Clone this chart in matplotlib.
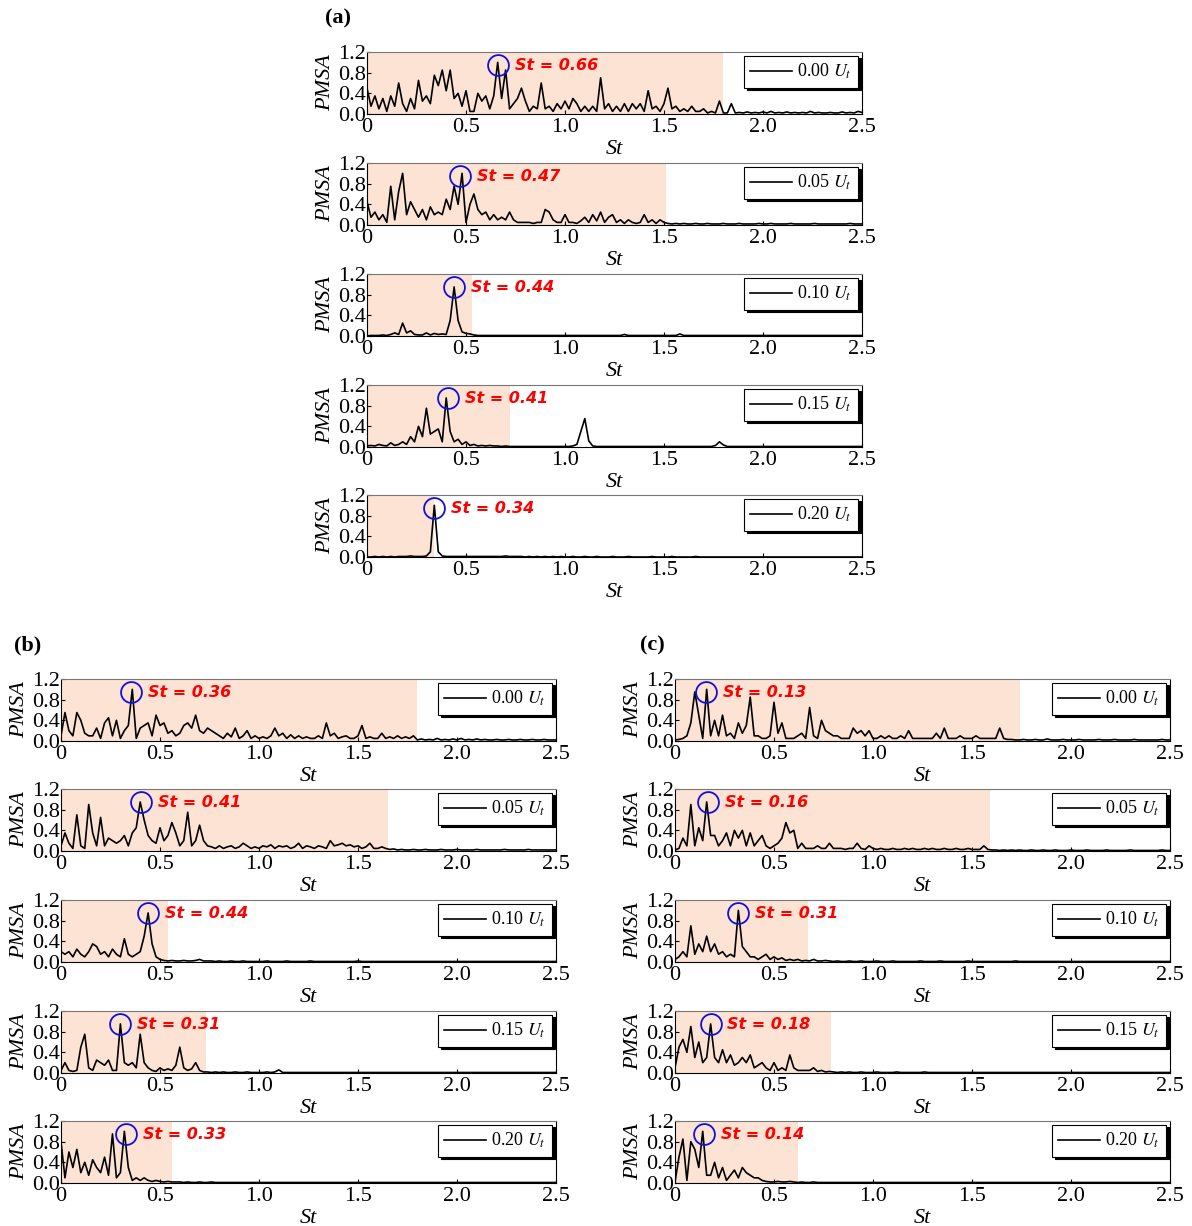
import numpy as np
import matplotlib
matplotlib.use('Agg')
import matplotlib.pyplot as plt

plt.rcParams['font.family'] = 'serif'
plt.rcParams['font.serif'] = ['Liberation Serif', 'DejaVu Serif']
plt.rcParams['mathtext.fontset'] = 'stix'

# St grid of the spectra (step 0.02)
st = np.linspace(0, 2.5, 126)

# ---------------- panel (a) ----------------
a00 = [0.50, 0.15, 0.35, 0.10, 0.30, 0.05, 0.35, 0.15, 0.60, 0.20,
       0.05, 0.30, 0.10, 0.65, 0.25, 0.35, 0.20, 0.75, 0.55, 0.85,
       0.45, 0.85, 0.30, 0.40, 0.15, 0.45, 0.05, 0.05, 0.40, 0.25,
       0.35, 0.10, 0.35, 1.00, 0.30, 0.85, 0.10, 0.20, 0.30, 0.50,
       0.25, 0.05, 0.15, 0.10, 0.60, 0.10, 0.15, 0.05, 0.20, 0.10,
       0.25, 0.10, 0.30, 0.20, 0.05, 0.15, 0.05, 0.15, 0.05, 0.70,
       0.10, 0.20, 0.05, 0.15, 0.05, 0.20, 0.05, 0.20, 0.10, 0.20,
       0.05, 0.45, 0.10, 0.15, 0.05, 0.20, 0.50, 0.10, 0.15, 0.05,
       0.10, 0.05, 0.15, 0.05, 0.05, 0.10, 0.02, 0.05, 0.02, 0.25,
       0.02, 0.02, 0.20, 0.02, 0.03, 0.02, 0.04, 0.02, 0.03, 0.02,
       0.04, 0.02, 0.05, 0.02, 0.03, 0.02, 0.04, 0.02, 0.03, 0.02,
       0.03, 0.02, 0.05, 0.02, 0.03, 0.02, 0.02, 0.03, 0.02, 0.02,
       0.04, 0.02, 0.03, 0.02, 0.05, 0.03]
a05 = [0.45, 0.15, 0.25, 0.10, 0.20, 0.05, 0.75, 0.10, 0.65, 1.00,
       0.20, 0.45, 0.30, 0.15, 0.30, 0.10, 0.35, 0.20, 0.25, 0.20,
       0.50, 0.30, 0.75, 0.40, 1.00, 0.05, 0.40, 0.60, 0.30, 0.20,
       0.25, 0.10, 0.20, 0.10, 0.15, 0.10, 0.25, 0.10, 0.05, 0.05,
       0.05, 0.05, 0.03, 0.05, 0.05, 0.30, 0.25, 0.10, 0.05, 0.05,
       0.20, 0.05, 0.05, 0.03, 0.08, 0.15, 0.05, 0.20, 0.08, 0.25,
       0.05, 0.15, 0.20, 0.05, 0.10, 0.03, 0.10, 0.05, 0.03, 0.05,
       0.20, 0.05, 0.10, 0.03, 0.10, 0.05, 0.03, 0.02, 0.03, 0.02,
       0.03, 0.02, 0.02, 0.03, 0.02, 0.02, 0.03, 0.02, 0.02, 0.02,
       0.03, 0.02, 0.02, 0.02, 0.03, 0.02, 0.02, 0.02, 0.02, 0.03,
       0.02, 0.02, 0.03, 0.02, 0.02, 0.02, 0.02, 0.03, 0.02, 0.02,
       0.02, 0.02, 0.02, 0.03, 0.02, 0.02, 0.02, 0.02, 0.02, 0.02,
       0.02, 0.02, 0.03, 0.02, 0.02, 0.02]
a10 = [0.00, 0.01, 0.01, 0.01, 0.02, 0.01, 0.03, 0.06, 0.03, 0.25,
       0.06, 0.10, 0.03, 0.02, 0.02, 0.06, 0.02, 0.05, 0.03, 0.04,
       0.03, 0.30, 0.95, 0.30, 0.08, 0.05, 0.04, 0.02, 0.01, 0.01,
       0.01, 0.01, 0.01, 0.01, 0.01, 0.01, 0.01, 0.01, 0.01, 0.01,
       0.01, 0.01, 0.01, 0.01, 0.01, 0.01, 0.01, 0.01, 0.01, 0.01,
       0.01, 0.01, 0.01, 0.01, 0.01, 0.01, 0.01, 0.01, 0.01, 0.01,
       0.01, 0.01, 0.01, 0.01, 0.01, 0.03, 0.01, 0.01, 0.01, 0.01,
       0.01, 0.01, 0.01, 0.01, 0.01, 0.01, 0.01, 0.01, 0.01, 0.04,
       0.01, 0.01, 0.01, 0.01, 0.01, 0.01, 0.01, 0.01, 0.01, 0.01,
       0.01, 0.01, 0.01, 0.01, 0.01, 0.01, 0.01, 0.01, 0.01, 0.01,
       0.01, 0.01, 0.01, 0.01, 0.01, 0.01, 0.01, 0.01, 0.01, 0.01,
       0.01, 0.01, 0.01, 0.01, 0.01, 0.01, 0.01, 0.01, 0.01, 0.01,
       0.01, 0.01, 0.01, 0.01, 0.01, 0.01]
a15 = [0.02, 0.03, 0.02, 0.05, 0.03, 0.02, 0.08, 0.03, 0.05, 0.10,
       0.05, 0.20, 0.10, 0.40, 0.20, 0.75, 0.25, 0.30, 0.35, 0.10,
       0.95, 0.30, 0.10, 0.15, 0.05, 0.10, 0.03, 0.05, 0.02, 0.03,
       0.02, 0.03, 0.02, 0.02, 0.01, 0.02, 0.01, 0.01, 0.01, 0.01,
       0.01, 0.01, 0.01, 0.01, 0.01, 0.01, 0.01, 0.01, 0.01, 0.01,
       0.01, 0.01, 0.02, 0.05, 0.30, 0.55, 0.12, 0.02, 0.01, 0.01,
       0.01, 0.01, 0.01, 0.01, 0.01, 0.01, 0.01, 0.01, 0.01, 0.01,
       0.01, 0.01, 0.01, 0.01, 0.01, 0.01, 0.01, 0.01, 0.01, 0.01,
       0.01, 0.01, 0.01, 0.01, 0.01, 0.01, 0.01, 0.01, 0.03, 0.10,
       0.04, 0.01, 0.01, 0.01, 0.01, 0.01, 0.01, 0.01, 0.01, 0.01,
       0.01, 0.01, 0.01, 0.01, 0.01, 0.01, 0.01, 0.01, 0.01, 0.01,
       0.01, 0.01, 0.01, 0.01, 0.01, 0.01, 0.01, 0.01, 0.01, 0.01,
       0.01, 0.01, 0.01, 0.01, 0.01, 0.01]
a20 = [0.00, 0.00, 0.01, 0.00, 0.01, 0.00, 0.01, 0.00, 0.01, 0.01,
       0.01, 0.02, 0.01, 0.01, 0.01, 0.02, 0.10, 1.00, 0.10, 0.02,
       0.01, 0.01, 0.01, 0.01, 0.01, 0.01, 0.01, 0.01, 0.01, 0.01,
       0.01, 0.01, 0.01, 0.01, 0.01, 0.02, 0.01, 0.01, 0.01, 0.01,
       0.00, 0.01, 0.00, 0.01, 0.00, 0.01, 0.00, 0.01, 0.00, 0.01,
       0.00, 0.00, 0.01, 0.00, 0.00, 0.01, 0.00, 0.00, 0.01, 0.00,
       0.00, 0.00, 0.01, 0.00, 0.00, 0.00, 0.01, 0.00, 0.00, 0.00,
       0.00, 0.00, 0.01, 0.00, 0.00, 0.00, 0.00, 0.01, 0.00, 0.00,
       0.00, 0.00, 0.00, 0.01, 0.00, 0.00, 0.00, 0.00, 0.00, 0.00,
       0.00, 0.00, 0.00, 0.00, 0.00, 0.00, 0.00, 0.00, 0.00, 0.00,
       0.00, 0.00, 0.00, 0.00, 0.00, 0.00, 0.00, 0.00, 0.00, 0.00,
       0.00, 0.00, 0.00, 0.00, 0.00, 0.00, 0.00, 0.00, 0.00, 0.00,
       0.00, 0.00, 0.00, 0.00, 0.00, 0.00]

# ---------------- panel (b) ----------------
b00 = [0.10, 0.55, 0.20, 0.10, 0.55, 0.40, 0.15, 0.10, 0.10, 0.25,
       0.05, 0.35, 0.45, 0.10, 0.40, 0.05, 0.20, 0.30, 1.00, 0.05,
       0.25, 0.30, 0.35, 0.10, 0.50, 0.30, 0.35, 0.15, 0.20, 0.10,
       0.15, 0.30, 0.35, 0.25, 0.50, 0.20, 0.15, 0.25, 0.20, 0.15,
       0.10, 0.05, 0.15, 0.08, 0.25, 0.05, 0.10, 0.20, 0.05, 0.10,
       0.05, 0.08, 0.05, 0.10, 0.25, 0.10, 0.15, 0.05, 0.12, 0.05,
       0.10, 0.05, 0.08, 0.05, 0.05, 0.10, 0.05, 0.35, 0.10, 0.15,
       0.05, 0.08, 0.10, 0.05, 0.05, 0.10, 0.30, 0.05, 0.08, 0.05,
       0.05, 0.15, 0.05, 0.08, 0.05, 0.10, 0.05, 0.08, 0.05, 0.10,
       0.02, 0.04, 0.02, 0.03, 0.02, 0.05, 0.02, 0.03, 0.02, 0.04,
       0.02, 0.05, 0.02, 0.03, 0.02, 0.04, 0.02, 0.03, 0.02, 0.02,
       0.03, 0.02, 0.02, 0.03, 0.02, 0.02, 0.03, 0.02, 0.02, 0.03,
       0.02, 0.02, 0.03, 0.02, 0.02, 0.02]
b05 = [0.10, 0.35, 0.15, 0.05, 0.70, 0.10, 0.05, 0.90, 0.35, 0.10,
       0.65, 0.10, 0.25, 0.20, 0.15, 0.20, 0.30, 0.10, 0.35, 0.45,
       0.95, 0.60, 0.30, 0.20, 0.15, 0.45, 0.20, 0.30, 0.55, 0.35,
       0.10, 0.20, 0.75, 0.10, 0.20, 0.50, 0.20, 0.10, 0.08, 0.05,
       0.10, 0.05, 0.08, 0.10, 0.05, 0.08, 0.15, 0.10, 0.05, 0.08,
       0.05, 0.10, 0.08, 0.12, 0.05, 0.10, 0.08, 0.10, 0.05, 0.08,
       0.15, 0.05, 0.10, 0.08, 0.05, 0.10, 0.08, 0.05, 0.20, 0.10,
       0.12, 0.15, 0.10, 0.12, 0.08, 0.10, 0.05, 0.08, 0.15, 0.05,
       0.05, 0.08, 0.05, 0.03, 0.04, 0.02, 0.03, 0.02, 0.02, 0.03,
       0.02, 0.02, 0.03, 0.02, 0.02, 0.02, 0.03, 0.02, 0.02, 0.02,
       0.03, 0.02, 0.02, 0.02, 0.02, 0.03, 0.02, 0.02, 0.02, 0.02,
       0.02, 0.02, 0.03, 0.02, 0.02, 0.02, 0.02, 0.02, 0.03, 0.02,
       0.02, 0.02, 0.02, 0.02, 0.02, 0.02]
b10 = [0.20, 0.15, 0.20, 0.10, 0.25, 0.15, 0.10, 0.20, 0.35, 0.30,
       0.15, 0.20, 0.10, 0.25, 0.15, 0.10, 0.45, 0.15, 0.10, 0.15,
       0.20, 0.50, 0.95, 0.35, 0.10, 0.05, 0.03, 0.02, 0.03, 0.02,
       0.02, 0.03, 0.02, 0.02, 0.03, 0.05, 0.02, 0.02, 0.02, 0.01,
       0.02, 0.01, 0.01, 0.02, 0.01, 0.01, 0.02, 0.01, 0.01, 0.01,
       0.01, 0.01, 0.02, 0.01, 0.01, 0.01, 0.01, 0.02, 0.01, 0.01,
       0.01, 0.01, 0.01, 0.02, 0.01, 0.01, 0.01, 0.01, 0.01, 0.01,
       0.01, 0.01, 0.01, 0.01, 0.01, 0.02, 0.01, 0.01, 0.01, 0.01,
       0.01, 0.01, 0.01, 0.01, 0.01, 0.01, 0.01, 0.01, 0.01, 0.01,
       0.01, 0.01, 0.01, 0.01, 0.01, 0.01, 0.01, 0.01, 0.01, 0.01,
       0.01, 0.01, 0.01, 0.01, 0.01, 0.01, 0.01, 0.01, 0.01, 0.01,
       0.01, 0.01, 0.01, 0.01, 0.01, 0.01, 0.01, 0.01, 0.01, 0.01,
       0.01, 0.01, 0.01, 0.01, 0.01, 0.01]
b15 = [0.05, 0.20, 0.05, 0.03, 0.05, 0.50, 0.75, 0.10, 0.05, 0.25,
       0.20, 0.15, 0.25, 0.05, 0.05, 0.95, 0.20, 0.15, 0.20, 0.10,
       0.75, 0.20, 0.10, 0.05, 0.03, 0.10, 0.05, 0.08, 0.05, 0.15,
       0.50, 0.10, 0.05, 0.08, 0.20, 0.05, 0.02, 0.02, 0.01, 0.02,
       0.01, 0.02, 0.01, 0.01, 0.02, 0.01, 0.01, 0.02, 0.01, 0.01,
       0.01, 0.01, 0.02, 0.01, 0.02, 0.06, 0.01, 0.01, 0.01, 0.01,
       0.01, 0.01, 0.01, 0.01, 0.01, 0.01, 0.01, 0.01, 0.01, 0.01,
       0.01, 0.01, 0.01, 0.01, 0.01, 0.01, 0.01, 0.01, 0.01, 0.01,
       0.01, 0.01, 0.01, 0.01, 0.01, 0.01, 0.01, 0.01, 0.01, 0.01,
       0.01, 0.01, 0.01, 0.01, 0.01, 0.01, 0.01, 0.01, 0.01, 0.01,
       0.01, 0.01, 0.01, 0.01, 0.01, 0.01, 0.01, 0.01, 0.01, 0.01,
       0.01, 0.01, 0.01, 0.01, 0.01, 0.01, 0.01, 0.01, 0.01, 0.01,
       0.01, 0.01, 0.01, 0.01, 0.01, 0.01]
b20 = [0.80, 0.10, 0.60, 0.30, 0.65, 0.20, 0.40, 0.15, 0.45, 0.30,
       0.20, 0.50, 0.15, 0.95, 0.10, 0.20, 1.00, 0.30, 0.05, 0.10,
       0.05, 0.10, 0.05, 0.03, 0.05, 0.03, 0.02, 0.03, 0.02, 0.02,
       0.02, 0.01, 0.02, 0.01, 0.01, 0.02, 0.01, 0.01, 0.02, 0.01,
       0.01, 0.01, 0.01, 0.01, 0.01, 0.01, 0.01, 0.01, 0.01, 0.01,
       0.01, 0.01, 0.01, 0.01, 0.01, 0.01, 0.01, 0.01, 0.01, 0.01,
       0.01, 0.01, 0.01, 0.01, 0.01, 0.01, 0.01, 0.01, 0.01, 0.01,
       0.01, 0.01, 0.01, 0.01, 0.01, 0.01, 0.01, 0.01, 0.01, 0.01,
       0.01, 0.01, 0.01, 0.01, 0.01, 0.01, 0.01, 0.01, 0.01, 0.01,
       0.01, 0.01, 0.01, 0.01, 0.01, 0.01, 0.01, 0.01, 0.01, 0.01,
       0.01, 0.01, 0.01, 0.01, 0.01, 0.01, 0.01, 0.01, 0.01, 0.01,
       0.01, 0.01, 0.01, 0.01, 0.01, 0.01, 0.01, 0.01, 0.01, 0.01,
       0.01, 0.01, 0.01, 0.01, 0.01, 0.01]

# ---------------- panel (c) ----------------
c00 = [0.02, 0.03, 0.05, 0.10, 0.35, 0.95, 0.50, 0.05, 1.00, 0.10,
       0.40, 0.10, 0.50, 0.10, 0.15, 0.05, 0.35, 0.15, 0.30, 0.85,
       0.10, 0.10, 0.05, 0.05, 0.10, 0.75, 0.15, 0.35, 0.05, 0.05,
       0.05, 0.10, 0.15, 0.05, 0.65, 0.10, 0.05, 0.40, 0.20, 0.15,
       0.10, 0.10, 0.05, 0.05, 0.05, 0.25, 0.15, 0.20, 0.10, 0.20,
       0.05, 0.05, 0.10, 0.05, 0.10, 0.05, 0.05, 0.10, 0.05, 0.20,
       0.05, 0.05, 0.05, 0.05, 0.05, 0.05, 0.15, 0.05, 0.25, 0.05,
       0.05, 0.05, 0.10, 0.05, 0.05, 0.05, 0.10, 0.05, 0.05, 0.05,
       0.05, 0.05, 0.25, 0.05, 0.03, 0.03, 0.02, 0.02, 0.03, 0.02,
       0.02, 0.03, 0.02, 0.02, 0.04, 0.02, 0.02, 0.02, 0.03, 0.02,
       0.02, 0.02, 0.03, 0.02, 0.02, 0.02, 0.02, 0.03, 0.02, 0.02,
       0.02, 0.03, 0.02, 0.02, 0.02, 0.02, 0.03, 0.02, 0.02, 0.02,
       0.02, 0.02, 0.02, 0.03, 0.02, 0.02]
c05 = [0.02, 0.05, 0.25, 0.10, 0.90, 0.10, 0.45, 0.20, 0.95, 0.30,
       0.30, 0.10, 0.20, 0.35, 0.10, 0.40, 0.25, 0.40, 0.10, 0.35,
       0.10, 0.20, 0.30, 0.10, 0.05, 0.10, 0.15, 0.25, 0.55, 0.35,
       0.40, 0.05, 0.15, 0.05, 0.05, 0.05, 0.10, 0.05, 0.05, 0.15,
       0.05, 0.05, 0.05, 0.03, 0.05, 0.05, 0.15, 0.05, 0.03, 0.10,
       0.05, 0.03, 0.05, 0.03, 0.03, 0.05, 0.03, 0.03, 0.05, 0.03,
       0.05, 0.03, 0.03, 0.05, 0.03, 0.05, 0.03, 0.03, 0.05, 0.03,
       0.03, 0.05, 0.03, 0.03, 0.05, 0.03, 0.03, 0.03, 0.10, 0.03,
       0.02, 0.02, 0.01, 0.02, 0.01, 0.02, 0.01, 0.02, 0.01, 0.01,
       0.02, 0.01, 0.01, 0.02, 0.01, 0.01, 0.02, 0.01, 0.01, 0.01,
       0.02, 0.01, 0.01, 0.01, 0.02, 0.01, 0.01, 0.01, 0.01, 0.02,
       0.01, 0.01, 0.01, 0.01, 0.01, 0.02, 0.01, 0.01, 0.01, 0.01,
       0.01, 0.01, 0.01, 0.02, 0.01, 0.01]
c10 = [0.05, 0.10, 0.20, 0.10, 0.70, 0.15, 0.35, 0.20, 0.50, 0.20,
       0.35, 0.15, 0.20, 0.10, 0.15, 0.10, 1.00, 0.30, 0.20, 0.10,
       0.10, 0.05, 0.10, 0.15, 0.05, 0.10, 0.05, 0.08, 0.03, 0.05,
       0.03, 0.05, 0.02, 0.03, 0.02, 0.05, 0.02, 0.02, 0.03, 0.02,
       0.01, 0.02, 0.01, 0.01, 0.02, 0.01, 0.01, 0.02, 0.01, 0.01,
       0.01, 0.02, 0.01, 0.01, 0.01, 0.02, 0.01, 0.01, 0.01, 0.01,
       0.01, 0.01, 0.02, 0.01, 0.01, 0.01, 0.01, 0.02, 0.01, 0.01,
       0.01, 0.01, 0.01, 0.01, 0.02, 0.01, 0.01, 0.01, 0.01, 0.01,
       0.01, 0.01, 0.01, 0.01, 0.01, 0.01, 0.02, 0.01, 0.01, 0.01,
       0.01, 0.01, 0.01, 0.01, 0.01, 0.01, 0.01, 0.01, 0.01, 0.01,
       0.01, 0.01, 0.01, 0.01, 0.01, 0.01, 0.01, 0.01, 0.01, 0.01,
       0.01, 0.01, 0.01, 0.01, 0.01, 0.01, 0.01, 0.01, 0.01, 0.01,
       0.01, 0.01, 0.01, 0.01, 0.01, 0.01]
c15 = [0.10, 0.50, 0.65, 0.40, 0.90, 0.30, 0.60, 0.20, 0.30, 0.95,
       0.30, 0.20, 0.45, 0.20, 0.35, 0.15, 0.20, 0.30, 0.20, 0.35,
       0.10, 0.15, 0.20, 0.10, 0.05, 0.20, 0.05, 0.10, 0.05, 0.35,
       0.10, 0.05, 0.05, 0.05, 0.05, 0.10, 0.03, 0.05, 0.02, 0.03,
       0.02, 0.01, 0.02, 0.01, 0.02, 0.01, 0.01, 0.02, 0.01, 0.01,
       0.01, 0.02, 0.01, 0.01, 0.01, 0.01, 0.02, 0.01, 0.01, 0.01,
       0.01, 0.01, 0.01, 0.02, 0.01, 0.01, 0.01, 0.01, 0.01, 0.01,
       0.01, 0.01, 0.01, 0.01, 0.01, 0.01, 0.01, 0.01, 0.01, 0.01,
       0.01, 0.01, 0.01, 0.01, 0.01, 0.01, 0.01, 0.01, 0.01, 0.01,
       0.01, 0.01, 0.01, 0.01, 0.01, 0.01, 0.01, 0.01, 0.01, 0.01,
       0.01, 0.01, 0.01, 0.01, 0.01, 0.01, 0.01, 0.01, 0.01, 0.01,
       0.01, 0.01, 0.01, 0.01, 0.01, 0.01, 0.01, 0.01, 0.01, 0.01,
       0.01, 0.01, 0.01, 0.01, 0.01, 0.01]
c20 = [0.02, 0.50, 0.85, 0.05, 0.80, 0.65, 0.30, 1.00, 0.15, 0.15,
       0.40, 0.10, 0.30, 0.05, 0.15, 0.25, 0.10, 0.30, 0.20, 0.15,
       0.10, 0.10, 0.05, 0.03, 0.02, 0.02, 0.03, 0.02, 0.02, 0.03,
       0.02, 0.01, 0.02, 0.01, 0.01, 0.02, 0.01, 0.01, 0.01, 0.01,
       0.01, 0.01, 0.01, 0.01, 0.01, 0.01, 0.01, 0.01, 0.01, 0.01,
       0.01, 0.01, 0.01, 0.01, 0.01, 0.01, 0.01, 0.01, 0.01, 0.01,
       0.01, 0.01, 0.01, 0.01, 0.01, 0.01, 0.01, 0.01, 0.01, 0.01,
       0.01, 0.01, 0.01, 0.01, 0.01, 0.01, 0.01, 0.01, 0.01, 0.01,
       0.01, 0.01, 0.01, 0.01, 0.01, 0.01, 0.01, 0.01, 0.01, 0.01,
       0.01, 0.01, 0.01, 0.01, 0.01, 0.01, 0.01, 0.01, 0.01, 0.01,
       0.01, 0.01, 0.01, 0.01, 0.01, 0.01, 0.01, 0.01, 0.01, 0.01,
       0.01, 0.01, 0.01, 0.01, 0.01, 0.01, 0.01, 0.01, 0.01, 0.01,
       0.01, 0.01, 0.01, 0.01, 0.01, 0.01]

series_a = [a00, a05, a10, a15, a20]
series_b = [b00, b05, b10, b15, b20]
series_c = [c00, c05, c10, c15, c20]

legend_labels = ['0.00', '0.05', '0.10', '0.15', '0.20']

# dominant peak (label text and circle position)
peak_a = [0.66, 0.47, 0.44, 0.41, 0.34]
peak_b = [0.36, 0.41, 0.44, 0.31, 0.33]
peak_c = [0.13, 0.16, 0.31, 0.18, 0.14]
circle_a = [0.66, 0.47, 0.44, 0.41, 0.34]
circle_b = [0.355, 0.405, 0.44, 0.30, 0.33]
circle_c = [0.157, 0.167, 0.318, 0.18, 0.146]

# upper end of the shaded St band
shade_a = [1.80, 1.51, 0.53, 0.72, 0.34]
shade_b = [1.80, 1.65, 0.54, 0.73, 0.56]
shade_c = [1.74, 1.59, 0.67, 0.79, 0.62]

W, H = 1192, 1226
fig = plt.figure(figsize=(W / 100, H / 100), dpi=100)

aw, ah = 495, 62
tops_a = [52, 163, 274, 385, 495]
tops_bc = [679, 789, 900, 1011, 1121]


def draw(left, top, vals, lab, pk, circ, shade):
    ax = fig.add_axes([left / W, 1 - (top + ah) / H, aw / W, ah / H])
    ax.axvspan(0, shade, color='#fde3d3', lw=0, zorder=0)
    ax.plot(st, vals, color='k', lw=1.2, label=lab + r' $U_t$', zorder=2)
    ax.plot([circ], [0.95], marker='o', ms=15, mfc='none', mec='#1010dd',
            mew=1.3, ls='none', zorder=3)
    ax.text(circ + 0.085, 0.93, 'St = %.2f' % pk, color='#ff0000',
            fontsize=11.5, fontweight='bold', fontstyle='italic',
            family='DejaVu Sans', ha='left', va='center', zorder=4)
    ax.set_xlim(0, 2.5)
    ax.set_ylim(0, 1.2)
    ax.set_xticks([0, 0.5, 1.0, 1.5, 2.0, 2.5])
    ax.set_xticklabels(['0', '0.5', '1.0', '1.5', '2.0', '2.5'])
    ax.set_yticks([0.0, 0.4, 0.8, 1.2])
    ax.set_yticklabels(['0.0', '0.4', '0.8', '1.2'])
    ax.tick_params(direction='in', length=3, labelsize=16)
    ax.tick_params(axis='x', pad=3)
    ax.tick_params(axis='y', pad=1)
    ax.set_xlabel('St', fontsize=16, fontstyle='italic', labelpad=2)
    ax.set_ylabel('PMSA', fontsize=16, fontstyle='italic', labelpad=2)
    for s in ['left', 'bottom', 'right']:
        ax.spines[s].set_color('k')
    ax.spines['top'].set_color('#777777')
    leg = ax.legend(loc='upper right', fontsize=13, frameon=True, fancybox=False,
                    shadow={'color': 'k', 'alpha': 1.0}, handlelength=2.3,
                    handletextpad=0.3, borderpad=0.35, borderaxespad=0.2)
    leg.get_frame().set_edgecolor('k')
    leg.get_frame().set_linewidth(0.8)
    return ax


for i in range(5):
    draw(367, tops_a[i], series_a[i], legend_labels[i], peak_a[i], circle_a[i], shade_a[i])
    draw(61, tops_bc[i], series_b[i], legend_labels[i], peak_b[i], circle_b[i], shade_b[i])
    draw(675, tops_bc[i], series_c[i], legend_labels[i], peak_c[i], circle_c[i], shade_c[i])

fig.text(338 / W, 1 - 18 / H, '(a)', fontsize=16, fontweight='bold', ha='center', va='center')
fig.text(28 / W, 1 - 645 / H, '(b)', fontsize=16, fontweight='bold', ha='center', va='center')
fig.text(652 / W, 1 - 645 / H, '(c)', fontsize=16, fontweight='bold', ha='center', va='center')

fig.savefig('out.png', dpi=100)
